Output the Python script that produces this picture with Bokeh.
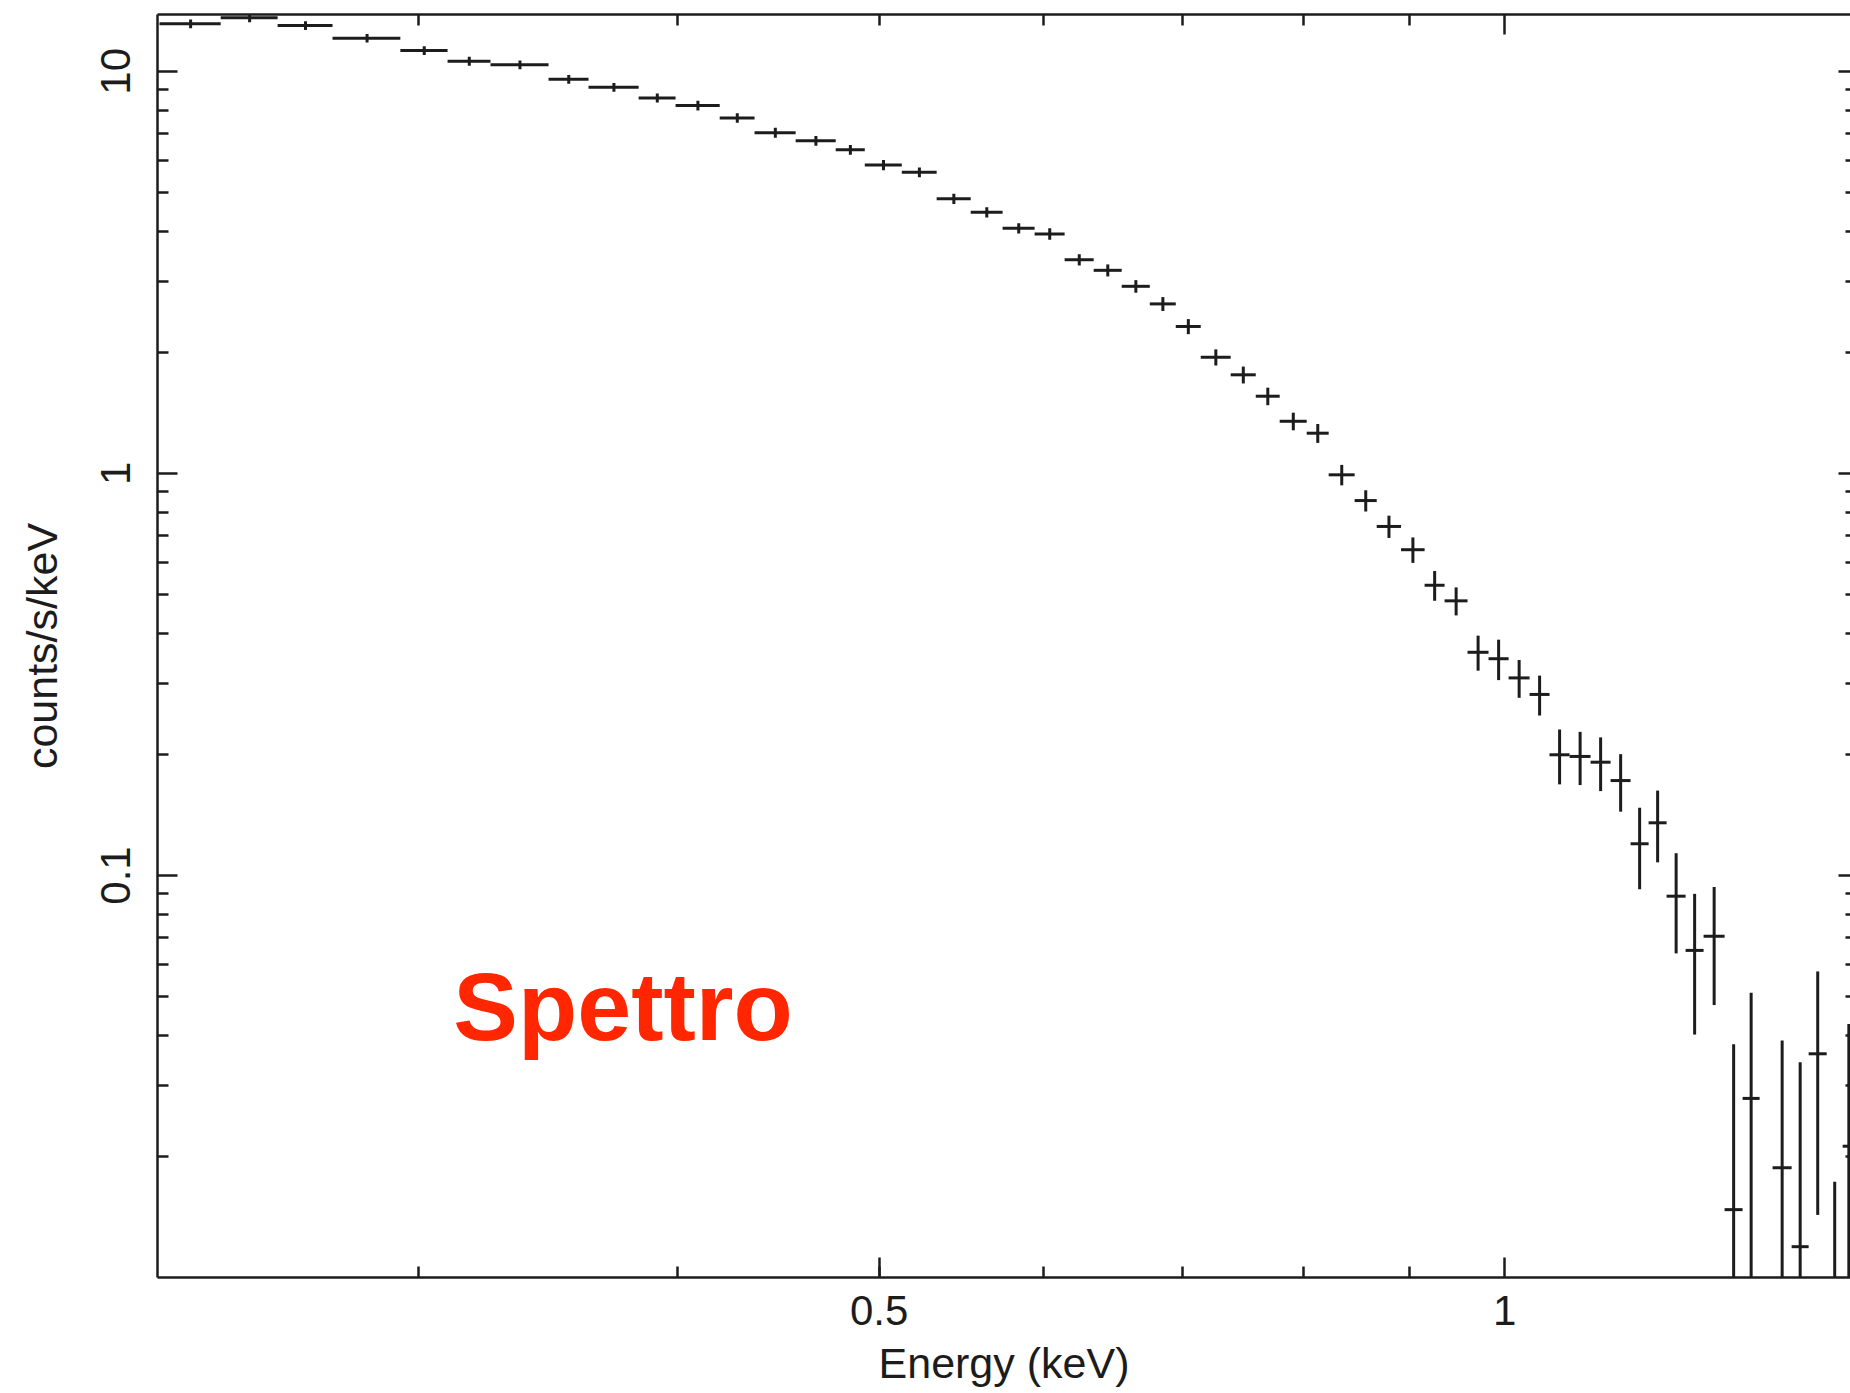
import numpy as np
from bokeh.plotting import figure
from bokeh.models import (ColumnDataSource, FixedTicker, LogAxis, CustomJSTickFormatter,
                          Label, Range1d)
from bokeh.embed import file_html
from bokeh.resources import INLINE

# ---- data ----
e_lo = [0.2252, 0.2410, 0.2567, 0.2728, 0.2941, 0.3099, 0.3250, 0.3466, 0.3623, 0.3830,
        0.3990, 0.4190, 0.4355, 0.4558, 0.4765, 0.4921, 0.5127, 0.5329, 0.5534, 0.5733,
        0.5940, 0.6141, 0.6342, 0.6542, 0.6749, 0.6946, 0.7141, 0.7382, 0.7590, 0.7794,
        0.8031, 0.8229, 0.8469, 0.8679, 0.8916, 0.9152, 0.9357, 0.9598, 0.9824, 1.0045,
        1.0281, 1.0511, 1.0747, 1.1000, 1.1247, 1.1499, 1.1731, 1.1967, 1.2222, 1.2468,
        1.2762, 1.3019, 1.3459, 1.3746, 1.4008, 1.4291, 1.4546]
e_hi = [0.2410, 0.2567, 0.2728, 0.2941, 0.3099, 0.3250, 0.3466, 0.3623, 0.3830, 0.3990,
        0.4190, 0.4355, 0.4558, 0.4765, 0.4921, 0.5127, 0.5329, 0.5534, 0.5733, 0.5940,
        0.6141, 0.6342, 0.6542, 0.6749, 0.6946, 0.7141, 0.7382, 0.7590, 0.7794, 0.8031,
        0.8229, 0.8469, 0.8679, 0.8916, 0.9152, 0.9357, 0.9598, 0.9824, 1.0045, 1.0281,
        1.0511, 1.0747, 1.1000, 1.1247, 1.1499, 1.1731, 1.1967, 1.2222, 1.2468, 1.2762,
        1.3019, 1.3267, 1.3746, 1.4008, 1.4291, 1.4546, 1.4746]
rate = [13.13, 13.59, 13.00, 12.09, 11.27, 10.60, 10.38, 9.56, 9.13, 8.59,
        8.22, 7.66, 7.04, 6.72, 6.38, 5.85, 5.61, 4.82, 4.46, 4.07,
        3.94, 3.40, 3.20, 2.92, 2.64, 2.32, 1.945, 1.759, 1.556, 1.348,
        1.259, 0.992, 0.856, 0.738, 0.646, 0.527, 0.482, 0.359, 0.346, 0.310,
        0.282, 0.1996, 0.1977, 0.1913, 0.1722, 0.1199, 0.1352, 0.0888, 0.0651, 0.0706,
        0.01475, 0.02789, 0.01875, 0.01193, 0.03601, 0.004, 0.02121]
rate_err = [0.33, 0.34, 0.32, 0.30, 0.28, 0.27, 0.26, 0.24, 0.23, 0.22,
            0.23, 0.21, 0.20, 0.19, 0.18, 0.17, 0.16, 0.14, 0.13, 0.12,
            0.13, 0.11, 0.11, 0.105, 0.105, 0.10, 0.09, 0.085, 0.078, 0.068,
            0.068, 0.058, 0.052, 0.047, 0.047, 0.0448, 0.0386, 0.0359, 0.0399, 0.0334,
            0.0321, 0.0311, 0.0299, 0.0292, 0.0281, 0.0275, 0.0274, 0.0248, 0.0249, 0.0230,
            0.0233, 0.0232, 0.0201, 0.0224, 0.0217, 0.0133, 0.0215]

x_major = [0.5, 1.0]
x_minor = [0.3, 0.4, 0.5, 0.6, 0.7, 0.8, 0.9]
y_major = [0.1, 1.0, 10.0]
y_minor = [0.02, 0.03, 0.04, 0.05, 0.06, 0.07, 0.08, 0.09,
           0.2, 0.3, 0.4, 0.5, 0.6, 0.7, 0.8, 0.9,
           2, 3, 4, 5, 6, 7, 8, 9]

x_title = "Energy (keV)"
y_title = "counts/s/keV"
note = "Spettro"

INK = "#1c1c1c"
FONT = "Liberation Sans"

e_lo_a = np.array(e_lo)
e_hi_a = np.array(e_hi)
r = np.array(rate)
s = np.array(rate_err)
src = ColumnDataSource(dict(
    e_lo=e_lo_a, e_hi=e_hi_a, e_mid=(e_lo_a + e_hi_a) / 2.0,
    rate=r, lo=np.maximum(r - s, 1e-4), hi=r + s))

p = figure(width=1850, height=1393, x_axis_type="log", y_axis_type="log",
           x_range=Range1d(0.2247, 1.4673), y_range=Range1d(0.01, 13.85),
           output_backend="svg", toolbar_location=None,
           min_border_left=157, min_border_right=0, min_border_top=14,
           min_border_bottom=116)
p.outline_line_color = None
p.xgrid.visible = False
p.ygrid.visible = False
p.background_fill_color = "white"
p.border_fill_color = "white"

fmt = CustomJSTickFormatter(code="return tick.toString();")


def style(ax, major_in=20, minor_in=11):
    ax.axis_line_color = INK
    ax.axis_line_width = 2.5
    ax.major_tick_line_color = INK
    ax.minor_tick_line_color = INK
    ax.major_tick_line_width = 2.5
    ax.minor_tick_line_width = 2.5
    ax.major_tick_in = major_in
    ax.major_tick_out = 0
    ax.minor_tick_in = minor_in
    ax.minor_tick_out = 0
    ax.major_label_text_font = FONT
    ax.major_label_text_font_size = "42px"
    ax.major_label_text_color = INK
    ax.axis_label_text_font = FONT
    ax.axis_label_text_font_size = "43px"
    ax.axis_label_text_font_style = "normal"
    ax.axis_label_text_color = INK


xb = p.xaxis[0]
xb.ticker = FixedTicker(ticks=x_major, minor_ticks=x_minor)
xb.formatter = fmt
style(xb)
xb.major_label_standoff = 18
xb.axis_label = x_title
xb.axis_label_standoff = 11

yl = p.yaxis[0]
yl.ticker = FixedTicker(ticks=y_major, minor_ticks=y_minor)
yl.formatter = fmt
style(yl)
yl.major_label_orientation = "vertical"
yl.major_label_standoff = 27
yl.axis_label = y_title
yl.axis_label_standoff = 33


def bare(ax):
    ax.major_label_text_font_size = "0px"
    ax.major_label_standoff = 0
    ax.axis_label = None
    ax.formatter = CustomJSTickFormatter(code="return '';")


xt = LogAxis(ticker=FixedTicker(ticks=[1.0], minor_ticks=x_minor))
style(xt)
bare(xt)
p.add_layout(xt, "above")

yr = LogAxis(ticker=FixedTicker(ticks=y_major, minor_ticks=y_minor))
style(yr, major_in=12, minor_in=5)
bare(yr)
yr.axis_line_color = None
p.add_layout(yr, "right")

# error bars
p.segment(x0="e_lo", y0="rate", x1="e_hi", y1="rate", source=src,
          line_color=INK, line_width=3)
p.segment(x0="e_mid", y0="lo", x1="e_mid", y1="hi", source=src,
          line_color=INK, line_width=3)

p.add_layout(Label(x=0.3119, y=0.0472, text=note, text_font=FONT,
                   text_font_size="97px", text_font_style="bold",
                   text_color="#ff2600", text_align="left",
                   text_baseline="alphabetic"))

open("out.html", "w").write(file_html(p, INLINE))
